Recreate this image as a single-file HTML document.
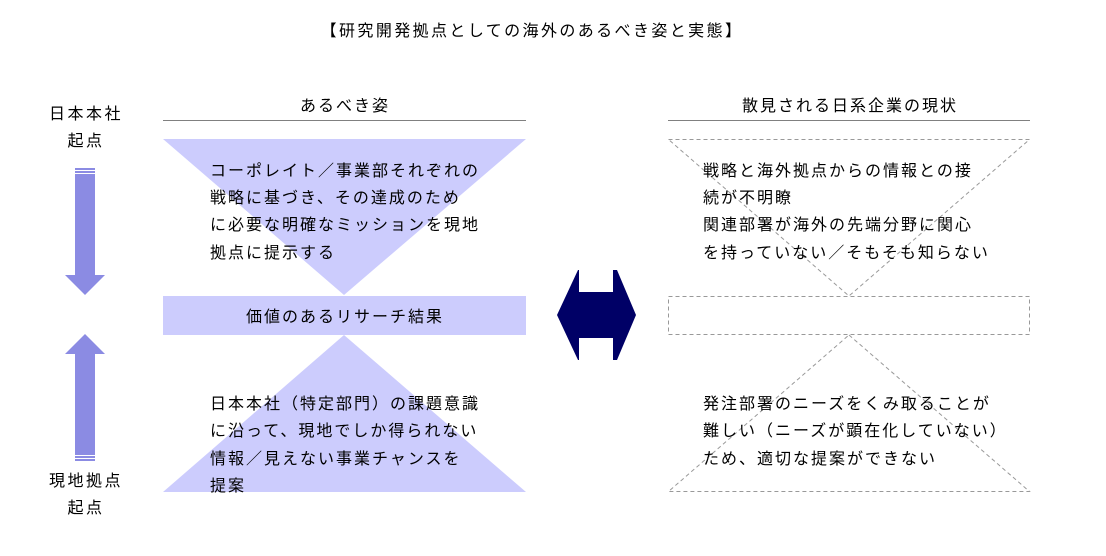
<!DOCTYPE html>
<html><head><meta charset="utf-8"><style>
html,body{margin:0;padding:0;background:#fff}
svg{display:block}
text{font-family:"Liberation Sans","Noto Sans CJK JP",sans-serif;font-size:16px;fill:#000;letter-spacing:2px}
</style></head><body>
<svg width="1106" height="556" viewBox="0 0 1106 556" xmlns="http://www.w3.org/2000/svg">
<text x="532" y="36" text-anchor="middle" style="letter-spacing:2.4px">【研究開発拠点としての海外のあるべき姿と実態】</text>
<text x="86" y="119" text-anchor="middle" style="letter-spacing:2.5px">日本本社</text>
<text x="86" y="146" text-anchor="middle" style="letter-spacing:2.5px">起点</text>
<text x="86" y="486" text-anchor="middle" style="letter-spacing:2.5px">現地拠点</text>
<text x="86" y="513" text-anchor="middle" style="letter-spacing:2.5px">起点</text>
<rect x="75" y="168" width="20" height="2" fill="#8b8be3"/>
<rect x="75" y="171" width="20" height="2" fill="#8b8be3"/>
<polygon points="75,174 95,174 95,275 105,275 85,295 65,275 75,275" fill="#8b8be3"/>
<polygon points="85,334 105,354 95,354 95,455 75,455 75,354 65,354" fill="#8b8be3"/>
<rect x="75" y="456" width="20" height="2" fill="#8b8be3"/>
<rect x="75" y="459" width="20" height="2" fill="#8b8be3"/>
<text x="345" y="111" text-anchor="middle">あるべき姿</text>
<line x1="163" y1="120.5" x2="526" y2="120.5" stroke="#808080" stroke-width="1"/>
<polygon points="163,139 526,139 344,295" fill="#ccccfd"/>
<rect x="163" y="296" width="363" height="39" fill="#ccccfd"/>
<polygon points="344,335 526,492 163,492" fill="#ccccfd"/>
<text x="345" y="322" text-anchor="middle">価値のあるリサーチ結果</text>
<text x="210" y="176">コーポレイト／事業部それぞれの</text>
<text x="210" y="203">戦略に基づき、その達成のため</text>
<text x="210" y="230">に必要な明確なミッションを現地</text>
<text x="210" y="258">拠点に提示する</text>
<text x="210" y="409">日本本社（特定部門）の課題意識</text>
<text x="210" y="436">に沿って、現地でしか得られない</text>
<text x="210" y="464">情報／見えない事業チャンスを</text>
<text x="210" y="491">提案</text>
<polygon points="578,270 579,270 579,292 613,292 613,270 617,270 636,315 617,360 613,360 613,338 579,338 579,360 578,360 557,315" fill="#000066"/>
<text x="850" y="111" text-anchor="middle">散見される日系企業の現状</text>
<line x1="668" y1="120.5" x2="1030" y2="120.5" stroke="#808080" stroke-width="1"/>
<g fill="none" stroke="#999" stroke-width="1" stroke-dasharray="4,3">
<polygon points="668.5,139.5 1029.5,139.5 849,296"/>
<rect x="668.5" y="296.5" width="361" height="38"/>
<polygon points="849,335 1029.5,491.5 668.5,491.5"/>
</g>
<text x="703" y="176">戦略と海外拠点からの情報との接</text>
<text x="703" y="203">続が不明瞭</text>
<text x="703" y="230">関連部署が海外の先端分野に関心</text>
<text x="703" y="258">を持っていない／そもそも知らない</text>
<text x="703" y="409">発注部署のニーズをくみ取ることが</text>
<text x="703" y="436">難しい（ニーズが顕在化していない）</text>
<text x="703" y="464">ため、適切な提案ができない</text>
</svg>
</body></html>
